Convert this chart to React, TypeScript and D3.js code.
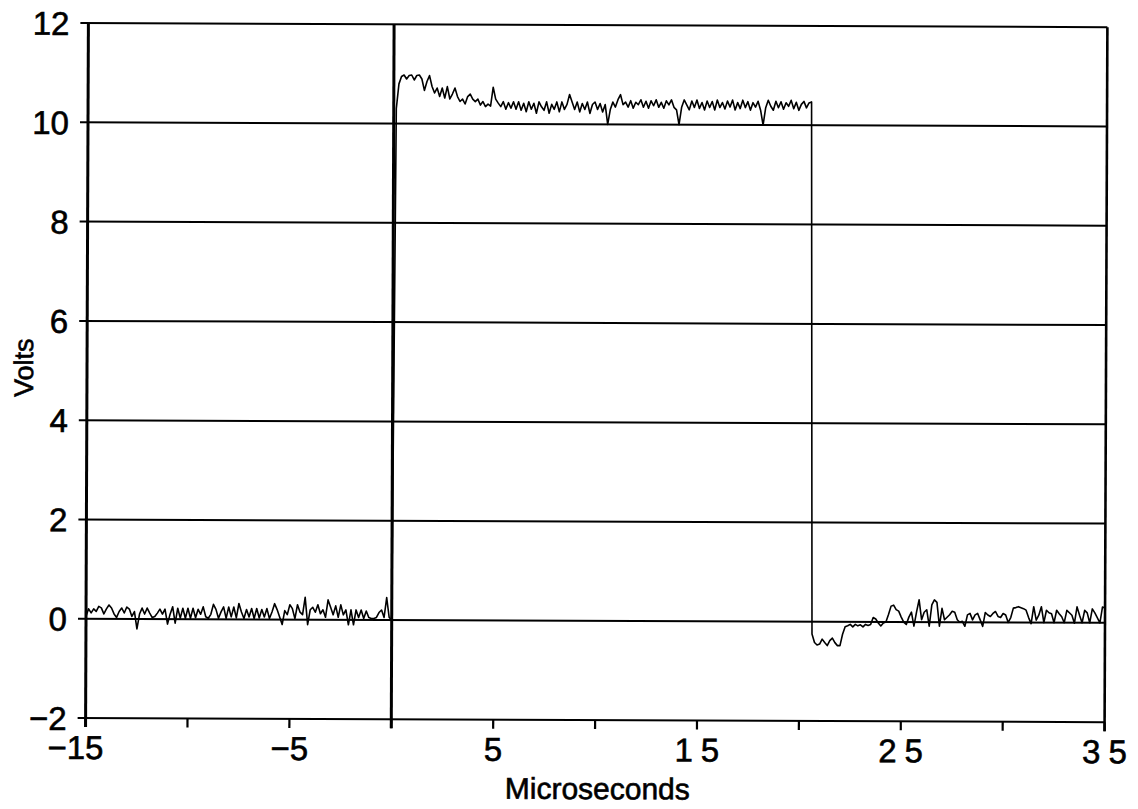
import React from "react";
import * as d3 from "d3";

const STEP = 0.125;

// Pre-trigger segment: t = -15 ... -0.125
const preStart = -15;
const preTrigger = [
  0.05, 0.2, 0.12, 0.2, 0.15, 0.25, 0.22, 0.1, 0.2, 0.28,
  0.22, 0.1, 0.03, 0.15, 0.22, 0.12, 0.24, 0.2, 0.05, 0.15,
  -0.2, 0.1, 0.22, 0.1, 0.22, 0.12, 0.03, 0.05, 0.12, 0.2,
  0.1, 0.2, -0.1, 0.1, 0.25, -0.08, 0.22, 0.02, 0.22, 0.02,
  0.22, 0.02, 0.22, 0.03, 0.2, 0.1, 0.25, 0.05, 0.02, 0.1,
  0.3, 0.2, 0.02, 0.15, 0.25, 0.02, 0.25, 0.05, 0.25, 0.03,
  0.32, 0.15, 0.02, 0.2, 0.05, 0.22, 0.02, 0.22, 0.03, 0.2,
  0.05, 0.22, 0.02, 0.15, 0.32, 0.2, 0.05, -0.1, 0.18, 0.1,
  0.3, 0.22, 0.02, 0.3, 0.15, 0.1, 0.45, -0.1, 0.2, 0.25,
  0.15, 0.3, 0.12, 0.2, 0.05, 0.4, 0.25, 0.1, 0.28, 0.05,
  0.3, 0.1, 0.2, -0.1, 0.2, -0.1, 0.2, 0.05, 0.2, 0.03,
  0.18, 0.05, 0.03, 0.03, 0.05, 0.15, 0.2, 0.05, 0.45, 0.05,
];

// Pulse segment: t = 0 ... 20.5
const pulseStart = 0;
const pulse = [
  0.0, 10.3, 10.8, 10.95, 10.98, 10.9, 10.97, 10.98, 10.88, 10.97,
  10.98, 10.9, 10.67, 10.85, 10.97, 10.75, 10.62, 10.72, 10.55, 10.72,
  10.52, 10.75, 10.5, 10.6, 10.72, 10.55, 10.45, 10.5, 10.4, 10.55,
  10.6, 10.5, 10.45, 10.5, 10.38, 10.45, 10.35, 10.4, 10.36, 10.74,
  10.5, 10.42, 10.35, 10.45, 10.3, 10.43, 10.32, 10.45, 10.3, 10.45,
  10.28, 10.42, 10.25, 10.45, 10.3, 10.42, 10.22, 10.45, 10.35, 10.28,
  10.45, 10.22, 10.4, 10.3, 10.45, 10.25, 10.45, 10.3, 10.4, 10.6,
  10.45, 10.3, 10.45, 10.25, 10.42, 10.3, 10.45, 10.22, 10.4, 10.45,
  10.3, 10.42, 10.25, 10.4, 10.0, 10.3, 10.45, 10.35, 10.5, 10.6,
  10.4, 10.45, 10.35, 10.48, 10.33, 10.45, 10.4, 10.5, 10.35, 10.47,
  10.33, 10.48, 10.38, 10.5, 10.35, 10.45, 10.33, 10.48, 10.4, 10.5,
  10.35, 10.3, 10.0, 10.35, 10.5, 10.4, 10.3, 10.48, 10.35, 10.5,
  10.33, 10.45, 10.3, 10.48, 10.35, 10.47, 10.3, 10.5, 10.35, 10.45,
  10.32, 10.48, 10.36, 10.5, 10.3, 10.45, 10.33, 10.5, 10.35, 10.47,
  10.3, 10.45, 10.36, 10.48, 10.3, 10.0, 10.35, 10.5, 10.38, 10.3,
  10.48, 10.35, 10.47, 10.32, 10.45, 10.38, 10.5, 10.33, 10.46, 10.3,
  10.42, 10.48, 10.35, 10.45, 10.47,
];

// Post-pulse segment: t = 20.625 ... 35
const postStart = 20.625;
const postPulse = [
  -0.25, -0.42, -0.47, -0.45, -0.35, -0.42, -0.48, -0.38, -0.33, -0.42,
  -0.48, -0.48, -0.25, -0.1, -0.08, -0.05, -0.1, -0.05, -0.08, -0.06,
  -0.1, -0.05, -0.07, -0.05, 0.09, 0.06, -0.02, -0.08, -0.02, 0.0,
  0.15, 0.32, 0.34, 0.25, 0.22, 0.1, 0.0, -0.05, 0.1, 0.2,
  -0.08, 0.2, 0.45, 0.05, 0.2, 0.25, -0.08, 0.35, 0.45, 0.4,
  -0.08, 0.28, 0.05, 0.1, 0.15, 0.22, 0.2, 0.05, 0.0, 0.02,
  -0.08, 0.15, 0.18, 0.05, 0.15, 0.18, 0.05, -0.08, 0.2, 0.15,
  0.12, 0.18, 0.22, 0.12, 0.1, 0.18, 0.15, 0.0, 0.1, 0.29,
  0.3, 0.32, 0.3, 0.28, 0.25, 0.1, -0.02, 0.32, 0.05, 0.15,
  0.32, 0.0, 0.25, 0.2, 0.18, 0.0, 0.25, 0.18, 0.12, 0.0,
  0.25, 0.2, 0.15, -0.01, 0.32, 0.15, 0.0, 0.25, 0.2, 0.0,
  0.28, 0.2, 0.1, 0.0, 0.32, 0.3,
];

const yTicks = [-2, 0, 2, 4, 6, 8, 10, 12];
const xTicks = [-15, -10, -5, 0, 5, 10, 15, 20, 25, 30, 35];
const xLabels = [-15, -5, 5, 15, 25, 35];

const xTitle = "Microseconds";
const yTitle = "Volts";

const W = 1138;
const H = 809;
const FONT = "'Liberation Sans', Arial, Helvetica, sans-serif";

const fmt = (v: number) => (v < 0 ? "\u2212" + Math.abs(v) : String(v));

export default function App() {
  const x = d3.scaleLinear().domain([-15, 35]).range([87, 1106]);
  const y = d3.scaleLinear().domain([-2, 12]).range([720, 25]);

  const seg = (start: number, vals: number[]) =>
    vals.map((v, i) => [start + i * STEP, v] as [number, number]);
  const data = [
    ...seg(preStart, preTrigger),
    ...seg(pulseStart, pulse),
    ...seg(postStart, postPulse),
  ];

  const line = d3
    .line<[number, number]>()
    .x((d) => x(d[0]))
    .y((d) => y(d[1]));

  const [x0, x1] = x.range();
  const [yb, yt] = y.range();

  const textProps = {
    fontFamily: FONT,
    fill: "#000",
    stroke: "#000",
    strokeWidth: 0.6,
  };

  return (
    <svg
      width={W}
      height={H}
      style={{ position: "absolute", left: 0, top: 0, background: "#fff" }}
    >
      <g transform={`rotate(0.23, ${W / 2}, ${(yb + yt) / 2})`}>
        {/* horizontal grid */}
        {yTicks.map((t) => (
          <line
            key={"g" + t}
            x1={x0 - 8}
            x2={x1}
            y1={y(t)}
            y2={y(t)}
            stroke="#000"
            strokeWidth={2}
          />
        ))}
        {/* x ticks */}
        {xTicks.map((t) => (
          <line
            key={"xt" + t}
            x1={x(t)}
            x2={x(t)}
            y1={yb}
            y2={yb + 9}
            stroke="#000"
            strokeWidth={2.2}
          />
        ))}
        {/* frame verticals */}
        <line x1={x0} x2={x0} y1={yt} y2={yb + 9} stroke="#000" strokeWidth={3} />
        <line x1={x1} x2={x1} y1={yt} y2={yb + 9} stroke="#000" strokeWidth={2.6} />
        <line x1={x(0)} x2={x(0)} y1={yt} y2={yb + 9} stroke="#000" strokeWidth={3} />
        {/* trace */}
        <path
          d={line(data) || ""}
          fill="none"
          stroke="#000"
          strokeWidth={1.6}
          strokeLinejoin="round"
        />
        {/* y labels */}
        {yTicks.map((t) => (
          <text
            key={"yl" + t}
            x={68}
            y={y(t) + 12}
            textAnchor="end"
            fontSize={33}
            {...textProps}
          >
            {fmt(t)}
          </text>
        ))}
        {/* x labels */}
        {xLabels.map((t, i) => (
          <text
            key={"xl" + t}
            x={x(t) + (t > 9 ? 4 : 0) + (i === 0 ? -10 : 0)}
            y={761}
            textAnchor="middle"
            fontSize={33}
            letterSpacing={t > 9 ? 8 : 0}
            {...textProps}
          >
            {fmt(t)}
          </text>
        ))}
        <text x={599} y={799} textAnchor="middle" fontSize={30} {...textProps}>
          {xTitle}
        </text>
        <text
          transform={`translate(33, 370) rotate(-90)`}
          textAnchor="middle"
          fontSize={27}
          {...textProps}
        >
          {yTitle}
        </text>
      </g>
    </svg>
  );
}
